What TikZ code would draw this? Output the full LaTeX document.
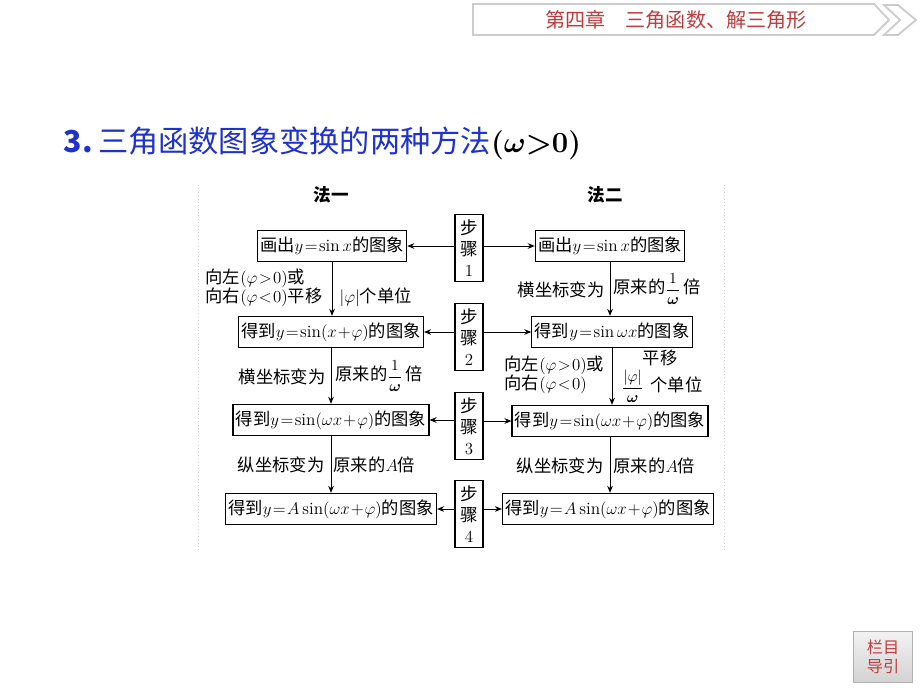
\documentclass[tikz,border=0pt]{standalone}
\usepackage{amsmath, bm}
\usepackage{fontspec}
\newfontfamily\cjk{Noto Sans CJK SC}
\usetikzlibrary{arrows.meta}
\definecolor{titleblue}{RGB}{30,50,205}
\definecolor{headred}{RGB}{190,60,60}
\thickmuskip=1.5mu
\medmuskip=1mu
\newcommand{\smallfrac}[2]{{\fontsize{11}{12}\selectfont$\dfrac{#1}{#2}$}}

\begin{document}
\begin{tikzpicture}[x=0.025cm, y=-0.025cm]
        \tikzstyle{box} = [draw, line width=0.8pt, minimum height=0.78cm, inner xsep=2pt, font=\cjk\fontsize{12.3}{14}\selectfont]
        \tikzstyle{stepbox} = [draw, line width=0.8pt, minimum width=0.7cm, minimum height=1.675cm, inner sep=1pt, align=center, font=\cjk\fontsize{12.5}{15}\selectfont]
        \tikzstyle{lab} = [inner sep=1pt, font=\cjk\fontsize{12.3}{13.5}\selectfont]
        \tikzstyle{head} = [font=\cjk\bfseries\fontsize{12.5}{15}\selectfont]
        \tikzstyle{arr} = [-{Stealth[length=5pt, width=4pt]}, line width=0.6pt]
        \fill[white] (0,0) rectangle (920,690);
        % banner
        \draw[gray!40, line width=1.3pt] (473,4) -- (874,4) -- (889,20) -- (874,35) -- (473,35) -- cycle;
        \draw[gray!40, line width=1.3pt] (884,5) -- (898,5) -- (916,20) -- (898,35) -- (884,35) -- (900,20) -- cycle;
        \node[text=headred, font=\cjk\fontsize{14.3}{16}\selectfont] (chap) at (676,20) {第四章　三角函数、解三角形};
        \node[anchor=west, text=titleblue, font=\cjk\fontsize{21.5}{24}\selectfont] (title) at (59,143) {\textbf{3.}\,三角函数图象变换的两种方法\textcolor{black}{$\bm{(\omega{>}0)}$}};
        \draw[gray!35, dotted] (198,185) -- (198,552);
        \draw[gray!35, dotted] (724,185) -- (724,552);
        \node[head] (h1) at (331,195) {法一};
        \node[head] (h2) at (605,195) {法二};
        % steps
        \node[stepbox] (S1) at (469,248) {步\\骤\\$1$};
        \node[stepbox] (S2) at (469,337) {步\\骤\\$2$};
        \node[stepbox] (S3) at (469,426) {步\\骤\\$3$};
        \node[stepbox] (S4) at (469,514) {步\\骤\\$4$};
        % method one
        \node[box] (L1) at (332,246) {画出$y=\sin x$的图象};
        \node[box] (L2) at (331,332) {得到$y=\sin(x+\varphi)$的图象};
        \node[box] (L3) at (331,420) {得到$y=\sin(\omega x+\varphi)$的图象};
        \node[box] (L4) at (331,509) {得到$y=A\sin(\omega x+\varphi)$的图象};
        % method two
        \node[box] (R1) at (610,246) {画出$y=\sin x$的图象};
        \node[box] (R2) at (612,332) {得到$y=\sin\omega x$的图象};
        \node[box] (R3) at (610,421) {得到$y=\sin(\omega x+\varphi)$的图象};
        \node[box] (R4) at (608,509) {得到$y=A\sin(\omega x+\varphi)$的图象};
        \path[arr]
        (L1.south) edge (L1.south |- L2.north)
        (L2.south) edge (L2.south |- L3.north)
        (L3.south) edge (L3.south |- L4.north)
        (R1.south) edge (R1.south |- R2.north)
        (R2.south) edge (R2.south |- R3.north)
        (R3.south) edge (R3.south |- R4.north);
        \path[arr]
        (S1.west |- L1.east) edge (L1.east)
        (S2.west |- L2.east) edge (L2.east)
        (S3.west |- L3.east) edge (L3.east)
        (S4.west |- L4.east) edge (L4.east)
        (S1.east |- R1.west) edge (R1.west)
        (S2.east |- R2.west) edge (R2.west)
        (S3.east |- R3.west) edge (R3.west)
        (S4.east |- R4.west) edge (R4.west);
        % labels
        \node[lab, anchor=west, align=left] (a1) at (204,288) {向左$(\varphi>0)$或\\向右$(\varphi<0)$平移};
        \node[lab, anchor=west] (a2) at (338,297) {$|\varphi|$个单位};
        \node[lab, anchor=east] (a3) at (327,377) {横坐标变为};
        \node[lab, anchor=west] (a4) at (334,376) {原来的\smallfrac{1}{\bm{\omega}}\,倍};
        \node[lab, anchor=east] (a5) at (326,465) {纵坐标变为};
        \node[lab, anchor=west] (a6) at (332,465) {原来的$A$倍};
        \node[lab, anchor=east] (b1) at (606,290) {横坐标变为};
        \node[lab, anchor=west] (b2) at (612,289) {原来的\smallfrac{1}{\bm{\omega}}\,倍};
        \node[lab, anchor=west, align=left] (b3) at (503,375) {向左$(\varphi>0)$或\\向右$(\varphi<0)$};
        \node[lab] (b4) at (660,358) {平移};
        \node[lab, anchor=west] (b5) at (620,386) {\smallfrac{|\varphi|}{\bm{\omega}}\, 个单位};
        \node[lab, anchor=east] (b6) at (605,466) {纵坐标变为};
        \node[lab, anchor=west] (b7) at (612,466) {原来的$A$倍};
        % button
        \node[draw=gray!60, top color=gray!10, bottom color=gray!35, minimum width=1.475cm, minimum height=1.275cm, align=center, text=headred, font=\cjk\fontsize{11.5}{14}\selectfont] (nav) at (883,657) {栏目\\导引};
    \end{tikzpicture}
\end{document}
